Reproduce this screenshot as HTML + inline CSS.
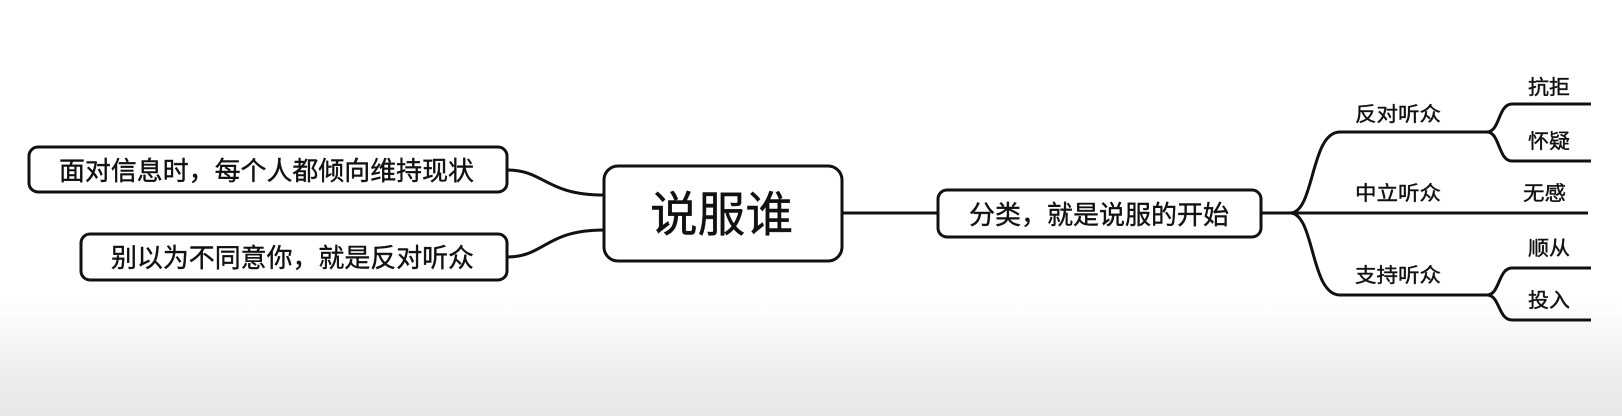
<!DOCTYPE html>
<html><head><meta charset="utf-8"><style>
body{margin:0;width:1622px;height:416px;overflow:hidden;background:linear-gradient(#fff 0,#fff 300px,#ececec 380px,#e8e8e8 416px);font-family:"Liberation Sans","Noto Sans CJK SC",sans-serif;}
svg{position:absolute;left:0;top:0}
</style></head><body>
<svg width="1622" height="416" viewBox="0 0 1622 416">
<g fill="none" stroke="#111" stroke-width="3">
<path d="M507 170 C545 170,545 195,604 195"/>
<path d="M507 257 C545 257,545 230,604 230"/>
<path d="M842 213 L938 213"/>
<path d="M1261 213 L1290 213"/>
<path d="M1290 213 C1315 213,1310 132,1340 132 L1487 132"/>
<path d="M1290 213 L1588 213"/>
<path d="M1290 213 C1315 213,1310 295,1340 295 L1487 295"/>
<path d="M1487 132 C1500 132,1498 104,1512 104 L1591 104"/>
<path d="M1487 132 C1500 132,1498 161,1512 161 L1591 161"/>
<path d="M1487 295 C1500 295,1498 268,1512 268 L1591 268"/>
<path d="M1487 295 C1500 295,1498 320,1512 320 L1591 320"/>
</g>
<g fill="#fff" stroke="#111" stroke-width="3">
<rect x="29" y="147" width="478" height="45" rx="9"/>
<rect x="81" y="234" width="426" height="46" rx="9"/>
<rect x="604" y="166" width="238" height="95" rx="14"/>
<rect x="938" y="190" width="323" height="47" rx="9"/>
</g>
<g fill="#111" stroke="#111" stroke-width="0.4" font-family="Liberation Sans,Noto Sans CJK SC,sans-serif">
<text x="59" y="180" font-size="26" textLength="415" lengthAdjust="spacingAndGlyphs">面对信息时，每个人都倾向维持现状</text>
<text x="111" y="267" font-size="26" textLength="363" lengthAdjust="spacingAndGlyphs">别以为不同意你，就是反对听众</text>
<text x="650" y="231" font-size="48" textLength="143" lengthAdjust="spacingAndGlyphs">说服谁</text>
<text x="969" y="224" font-size="26" textLength="260" lengthAdjust="spacingAndGlyphs">分类，就是说服的开始</text>
<text x="1355" y="121" font-size="20" textLength="86" lengthAdjust="spacingAndGlyphs">反对听众</text>
<text x="1355" y="200" font-size="20" textLength="86" lengthAdjust="spacingAndGlyphs">中立听众</text>
<text x="1355" y="282" font-size="20" textLength="86" lengthAdjust="spacingAndGlyphs">支持听众</text>
<text x="1528" y="94" font-size="20" textLength="42" lengthAdjust="spacingAndGlyphs">抗拒</text>
<text x="1528" y="148" font-size="20" textLength="42" lengthAdjust="spacingAndGlyphs">怀疑</text>
<text x="1523" y="200" font-size="20" textLength="43" lengthAdjust="spacingAndGlyphs">无感</text>
<text x="1528" y="255" font-size="20" textLength="42" lengthAdjust="spacingAndGlyphs">顺从</text>
<text x="1528" y="307" font-size="20" textLength="42" lengthAdjust="spacingAndGlyphs">投入</text>
</g>
</svg>
</body></html>
